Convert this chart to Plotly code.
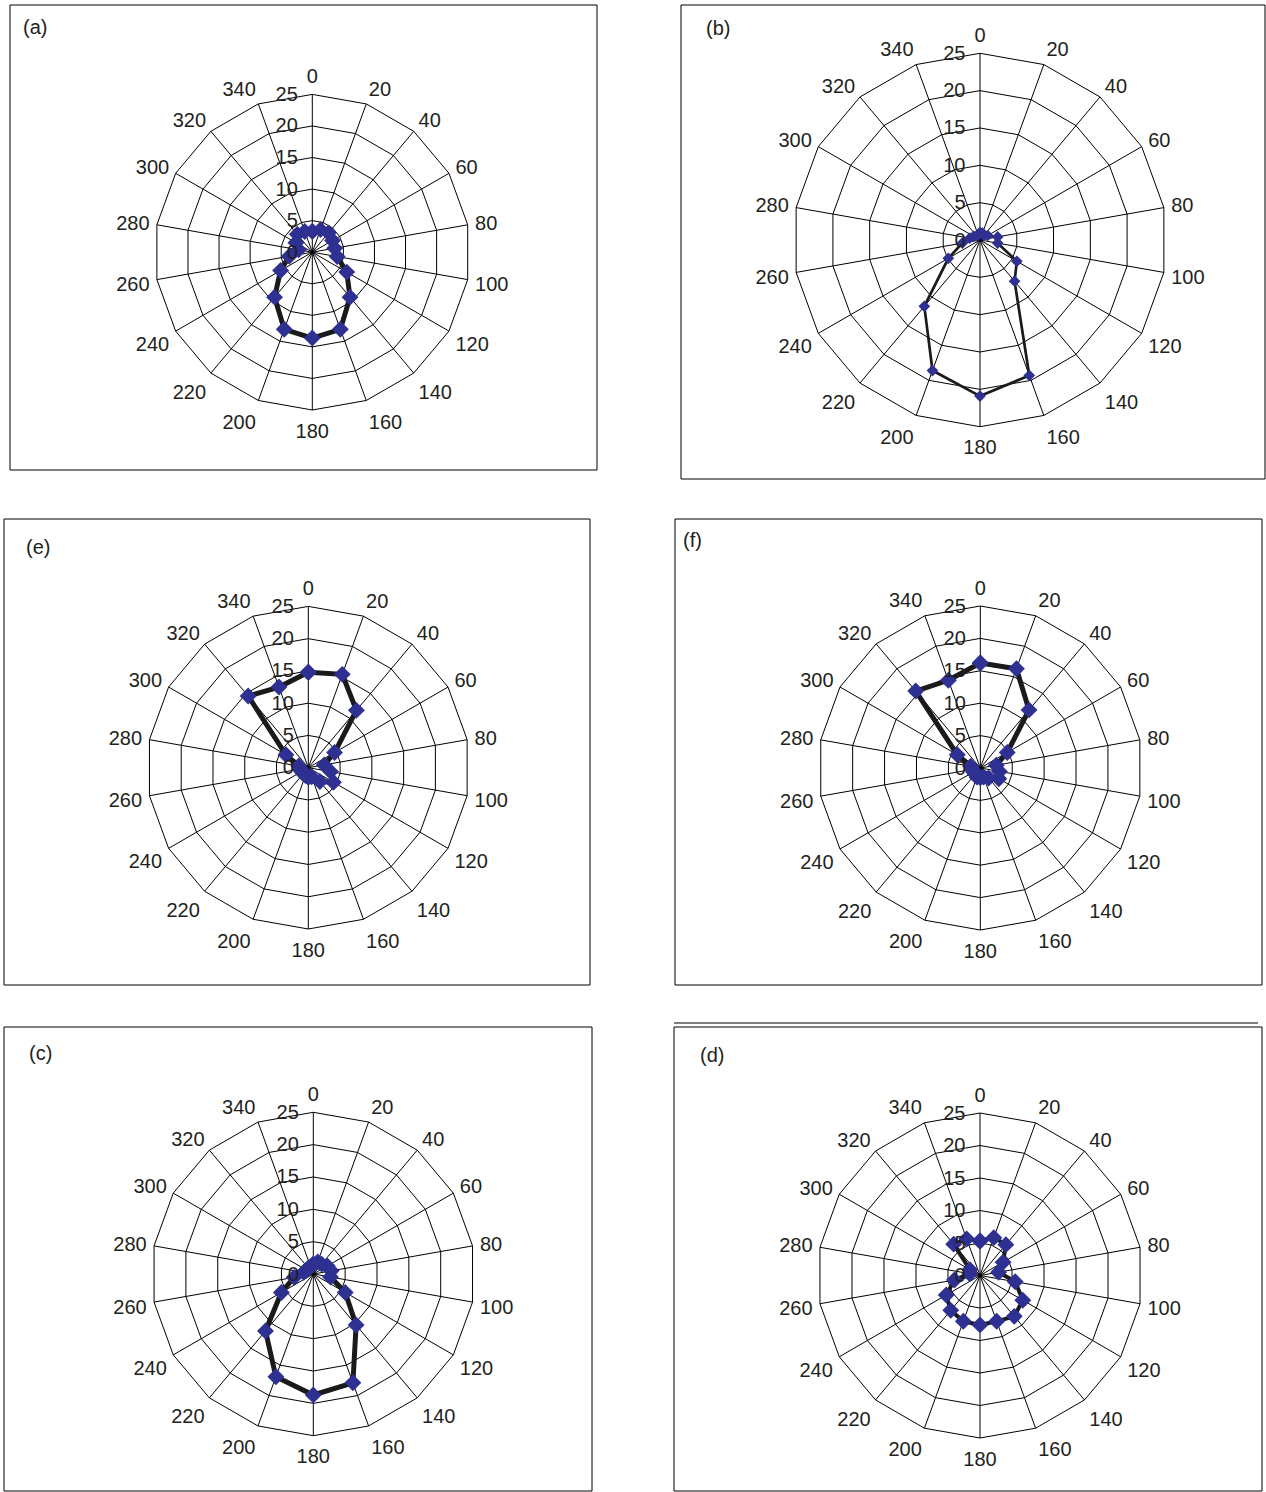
import plotly.graph_objects as go

W, H = 1266, 1492

# ---- data ----
angles = list(range(0, 360, 20))
angle_labels = [str(a) for a in angles]
radial_ticks = [0, 5, 10, 15, 20, 25]

a_values = [3.3, 3.8, 4.0, 3.7, 3.6, 4.0, 6.3, 9.3, 13.0, 13.6, 13.0, 9.3, 5.8, 3.7, 2.2, 3.0, 3.7, 3.5]
b_values = [1.0, 1.0, 0.8, 1.2, 2.4, 2.4, 5.7, 7.2, 19.3, 20.9, 18.6, 11.6, 4.9, 2.4, 1.4, 1.0, 0.7, 0.7]
e_values = [14.8, 15.4, 11.6, 4.7, 2.5, 3.5, 4.5, 2.8, 1.5, 1.5, 1.3, 1.2, 1.2, 1.2, 1.5, 4.0, 14.5, 13.3]
f_values = [16.2, 16.3, 11.7, 4.8, 2.5, 3.0, 3.3, 2.0, 1.5, 1.5, 1.5, 1.2, 1.2, 1.2, 1.5, 4.1, 15.5, 14.4]
c_values = [1.5, 2.0, 2.0, 2.5, 2.8, 2.7, 5.7, 10.3, 17.9, 18.7, 16.9, 11.5, 5.7, 3.0, 1.5, 1.2, 1.2, 1.2]
d_values = [5.3, 6.2, 6.2, 4.1, 2.9, 5.5, 7.6, 8.2, 7.5, 7.6, 7.5, 7.0, 6.0, 4.0, 1.6, 1.8, 6.3, 6.0]

panel_labels = ["(a)", "(b)", "(e)", "(f)", "(c)", "(d)"]
panel_values = [a_values, b_values, e_values, f_values, c_values, d_values]

# ---- layout geometry (pixels) ----
geom = [
    dict(cx=312.3, cy=252.2, R=157.8, box=(10, 5, 597, 470), lab=(35, 27), lw=5, ms=13),
    dict(cx=980.0, cy=240.0, R=186.7, box=(681, 5, 1265, 479), lab=(718, 28), lw=2.7, ms=9),
    dict(cx=308.3, cy=767.7, R=161.3, box=(4, 519, 590, 985), lab=(38, 547), lw=5, ms=13),
    dict(cx=980.3, cy=768.0, R=162.0, box=(675, 519, 1262, 985), lab=(692, 540), lw=5, ms=13),
    dict(cx=313.3, cy=1274.0, R=161.7, box=(4, 1027, 592, 1491), lab=(40, 1053), lw=5, ms=13),
    dict(cx=980.0, cy=1275.5, R=162.5, box=(674, 1027, 1262, 1491), lab=(712, 1055), lw=4, ms=13),
]

FONT = "Liberation Sans, Arial, sans-serif"
TXT = "#231F20"
MARK = "#2E3192"

fig = go.Figure()
shapes = []
annotations = []
layout_polars = {}

for i, (lab, vals, g) in enumerate(zip(panel_labels, panel_values, geom)):
    key = "polar" if i == 0 else f"polar{i+1}"
    th = angle_labels + [angle_labels[0]]
    rr = vals + [vals[0]]
    fig.add_trace(go.Scatterpolar(
        r=rr, theta=th, mode="lines+markers", subplot=key,
        line=dict(color="#1A1A1A", width=g["lw"]),
        marker=dict(symbol="diamond", size=g["ms"], color=MARK),
        showlegend=False, hoverinfo="skip",
    ))
    cx, cy, R = g["cx"], g["cy"], g["R"]
    layout_polars[key] = dict(
        domain=dict(x=[(cx - R) / W, (cx + R) / W], y=[1 - (cy + R) / H, 1 - (cy - R) / H]),
        gridshape="linear",
        bgcolor="white",
        angularaxis=dict(
            type="category", categoryorder="array", categoryarray=angle_labels,
            rotation=90, direction="clockwise",
            showgrid=True, gridcolor="black", gridwidth=1,
            showline=True, linecolor="black", linewidth=1,
            ticks="outside", ticklen=3, tickcolor="rgba(0,0,0,0)",
            tickfont=dict(family=FONT, size=20, color=TXT),
        ),
        radialaxis=dict(
            range=[0, 25], tickmode="array", tickvals=radial_ticks,
            angle=90, tickangle=90, side="counterclockwise", showline=False,
            showgrid=True, gridcolor="black", gridwidth=1,
            ticks="outside", ticklen=7, tickcolor="rgba(0,0,0,0)",
            tickfont=dict(family=FONT, size=20, color=TXT),
        ),
    )
    x0, y0, x1, y1 = g["box"]
    shapes.append(dict(type="rect", xref="paper", yref="paper",
                       x0=x0 / W, x1=x1 / W, y0=1 - y1 / H, y1=1 - y0 / H,
                       line=dict(color="black", width=1), layer="below"))
    lx, ly = g["lab"]
    annotations.append(dict(text=lab, xref="paper", yref="paper", x=lx / W, y=1 - ly / H,
                            showarrow=False, xanchor="center", yanchor="middle",
                            font=dict(family=FONT, size=20, color=TXT)))

# extra top line above panel (d)
shapes.append(dict(type="line", xref="paper", yref="paper", x0=674 / W, x1=1258 / W,
                   y0=1 - 1023 / H, y1=1 - 1023 / H, line=dict(color="black", width=1)))

fig.update_layout(
    width=W, height=H, margin=dict(l=0, r=0, t=0, b=0),
    paper_bgcolor="white", plot_bgcolor="white",
    shapes=shapes, annotations=annotations, showlegend=False,
    **layout_polars,
)

fig.write_html("out.html", config={"displayModeBar": False},
               post_script="document.body.style.margin='0';")
